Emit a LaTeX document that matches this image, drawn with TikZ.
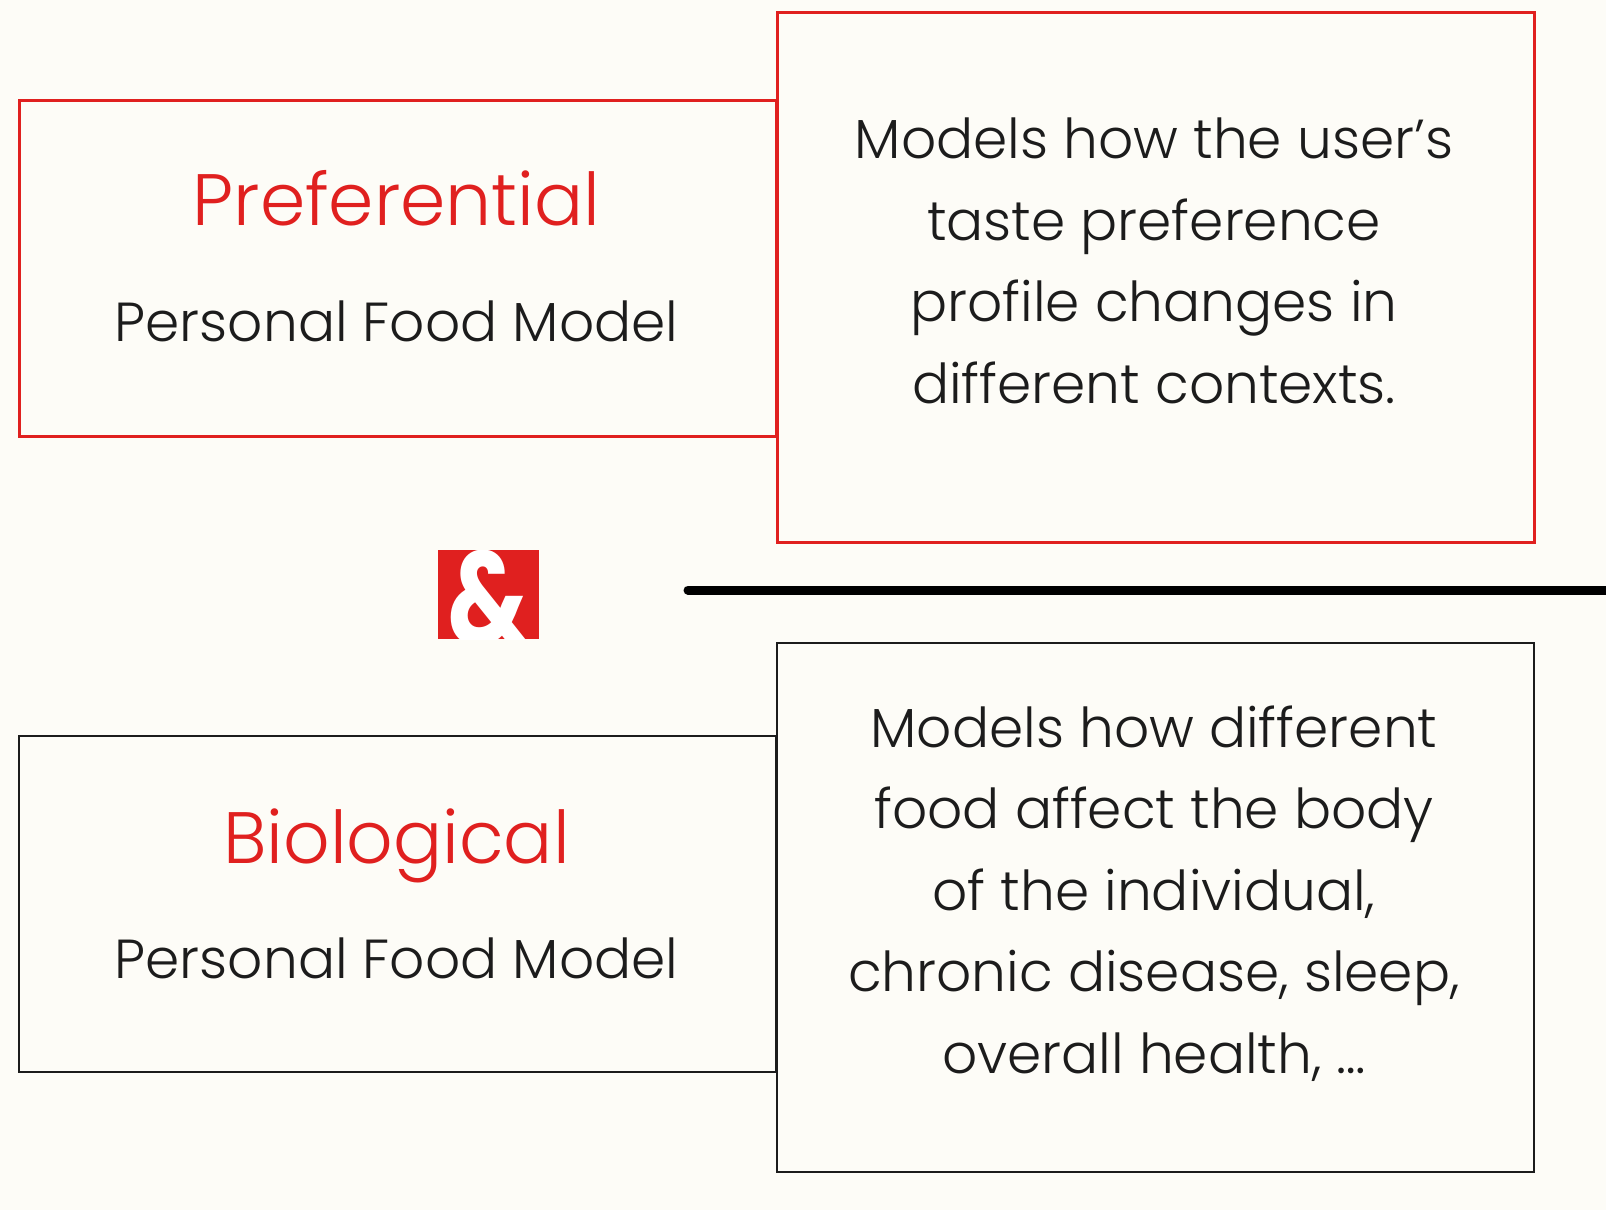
\documentclass[tikz,border=0pt]{standalone}
\usepackage{fontspec}
\setmainfont{Poppins Light}[BoldFont=Poppins Bold]

\definecolor{bgcream}{HTML}{FDFCF7}
\definecolor{pfred}{HTML}{E0201F}
\definecolor{inkdark}{HTML}{1C1C1C}

\tikzset{
  panel/.style={minimum width=757pt, inner sep=0pt, anchor=north west},
  redbox/.style={panel, draw=pfred, line width=2.5pt},
  darkbox/.style={panel, draw=inkdark, line width=2pt},
  title/.style={font=\fontsize{72.8}{90}\selectfont, text=pfred, anchor=base},
  subtitle/.style={font=\fontsize{55}{70}\selectfont, text=inkdark, anchor=base},
  desc/.style={font=\fontsize{55}{81.5}\selectfont, text=inkdark, align=center, anchor=base},
}

\begin{document}
\begin{tikzpicture}[x=1pt, y=-1pt]
    % page
    \fill[bgcream] (0,0) rectangle (1606,1210);
    \useasboundingbox (0,0) rectangle (1606,1210);

    % preferential model
    \node[redbox, minimum height=336pt] (prefL) at (18,99) {};
    \node[redbox, minimum height=530pt] (prefR) at (776,11) {};
    \node[title] (prefT) at (396.5,225) {Preferential};
    \node[subtitle] (prefS) at (396.5,341) {Personal Food Model};
    \node[desc] (prefD) at (1154,403) {Models how the user’s\\taste preference\\profile changes in\\different contexts.};

    % separator
    \node[fill=pfred, minimum width=101pt, minimum height=89pt, inner sep=0pt, anchor=north west] (ampbox) at (438,550) {};
    \begin{scope}
        \clip (ampbox.south west) rectangle (ampbox.north east);
        \node[font=\bfseries\fontsize{132}{132}\selectfont, text=white, inner sep=0pt, xscale=0.78] (amp) at ([yshift=-3pt]ampbox.center) {\&};
    \end{scope}
    \coordinate (ruleL) at (688,590);
    \coordinate (ruleR) at (1612,590);
    \draw[line width=9pt, line cap=round] (ruleL) -- (ruleR);

    % biological model
    \node[darkbox, minimum height=336pt] (bioL) at (18,735) {};
    \node[darkbox, minimum height=529pt] (bioR) at (776,642) {};
    \node[title] (bioT) at (396.5,863) {Biological};
    \node[subtitle] (bioS) at (396.5,978) {Personal Food Model};
    \node[desc] (bioD) at (1154,1073) {Models how different\\food affect the body\\of the individual,\\chronic disease, sleep,\\overall health, …};
\end{tikzpicture}
\end{document}
